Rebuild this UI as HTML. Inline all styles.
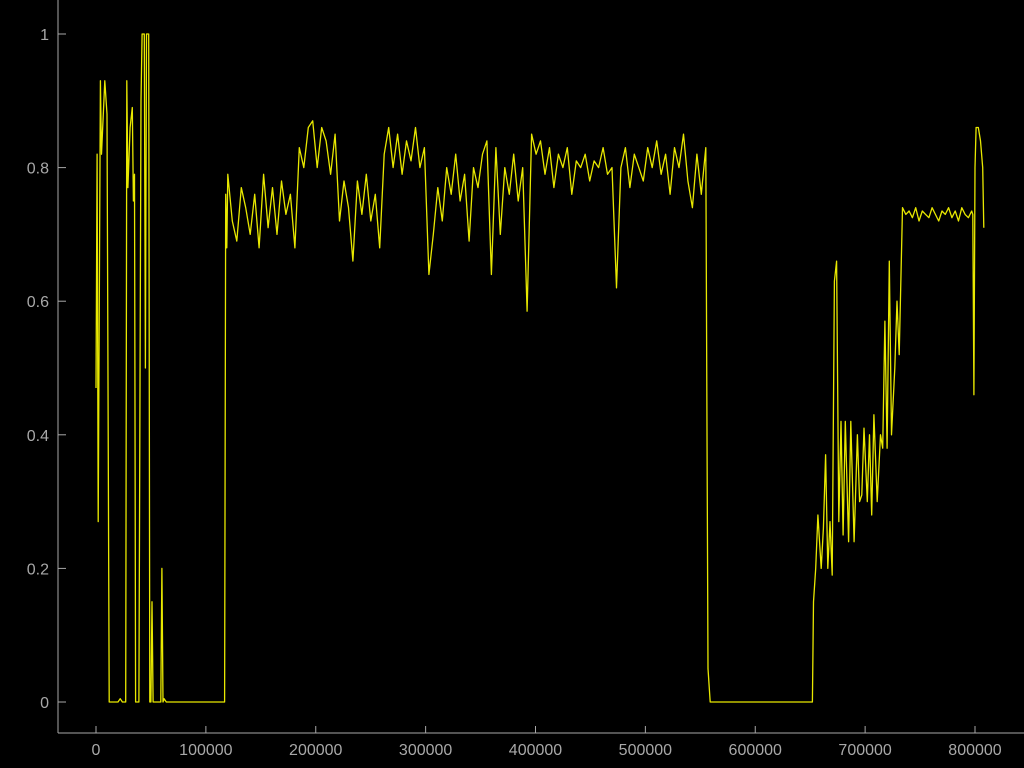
<!DOCTYPE html>
<html><head><meta charset="utf-8"><style>
html,body{margin:0;padding:0;background:#000;}
svg{display:block;}
text{font-family:"Liberation Sans","DejaVu Sans",sans-serif;font-size:16px;fill:#a8a8a8;}
</style></head><body>
<svg id="chart" width="1024" height="768" xmlns="http://www.w3.org/2000/svg">
<rect width="1024" height="768" fill="#000"/>
<g id="axes"></g>
<path id="series" fill="none" stroke="#e8e800" stroke-width="1.3" stroke-linejoin="round"/>
</svg>
<script>
const xTicks = [0,100000,200000,300000,400000,500000,600000,700000,800000];
const yTicks = [0,0.2,0.4,0.6,0.8,1];
const earlyX = [0,1,2,4,5,8,10,12,20,22,24,27,28,29,31,33,34,35,36,39,41,42,44,45,46,48,49,50,51,52,53,59,60,61,62,64,117,118,119];
const earlyY = [0.47,0.82,0.27,0.93,0.82,0.93,0.88,0,0,0.005,0,0,0.93,0.77,0.86,0.89,0.75,0.79,0,0,0.9,1,1,0.5,1,1,0,0,0.15,0,0,0,0.2,0,0.005,0,0,0.76,0.68];
const midStartK = 120, midEndK = 555;
const midY = [0.79,0.72,0.69,0.77,0.74,0.7,0.76,0.68,0.79,0.71,0.77,0.7,0.78,0.73,0.76,
0.68,0.83,0.8,0.86,0.87, 0.8,0.86,0.84,0.79,0.85,
0.72,0.78,0.74,0.66,0.78,0.73,0.79,0.72,0.76,0.68,
0.82,0.86,0.8,0.85,0.79,0.84,0.81,0.86,0.8,0.83,
0.64,0.7,0.77, 0.72,0.8,0.76,0.82,0.75,0.79,0.69,0.8,0.77,0.82,
0.84,0.64,0.83,0.7, 0.8,0.76,0.82,0.75,0.8, 0.585,
0.85,0.82,0.84,0.79,0.83, 0.77,0.82,0.8,0.83,0.76,0.81,0.8,
0.82,0.78,0.81,0.8,0.83,0.79,0.8, 0.62,
0.8,0.83,0.77,0.82,0.8,0.78,0.83,0.8,0.84,0.79,0.82,0.76,0.83,0.8,0.85,0.78,0.74,0.82,0.76,0.83];
const gapX = [557,559,652];
const gapY = [0.05,0,0];
const lateX = [653,655,657,660,662,664,666,668,670,672,674,676,678,680,682,685,687,690,693,695,697,699,702,704,706,708,711,714,716,718,720,722,724,727,729,731,734];
const lateY = [0.15,0.2,0.28,0.2,0.26,0.37,0.2,0.27,0.19,0.63,0.66,0.27,0.42,0.25,0.42,0.24,0.42,0.24,0.4,0.3,0.31,0.41,0.3,0.4,0.28,0.43,0.3,0.4,0.38,0.57,0.38,0.66,0.4,0.5,0.6,0.52,0.74];
const plateauStartK = 737, plateauEndK = 797;
const plateauY = [0.73,0.735,0.725,0.74,0.72,0.735,0.73,0.725,0.74,0.73,0.72,0.735,0.73,0.74,0.725,0.735,0.72,0.74,0.73,0.725,0.735];
const endX = [798,799,800,801,803,805,807,808];
const endY = [0.73,0.46,0.8,0.86,0.86,0.84,0.8,0.71];

const X0=96, X1=975, Y0=702, Y1=34;
function xs(v){return X0+(v/800000)*(X1-X0);}
function ysc(v){return Y0+(Y1-Y0)*v;}
const NS="http://www.w3.org/2000/svg";
const ax=document.getElementById('axes');
function mk(tag,attrs){const e=document.createElementNS(NS,tag);for(const k in attrs)e.setAttribute(k,attrs[k]);return e;}
let a=mk('line',{x1:58,y1:0,x2:58,y2:733,stroke:'#a8a8a8','stroke-width':1});


ax.appendChild(a);
a=mk('line',{x1:58,y1:733,x2:1024,y2:733,stroke:'#a8a8a8','stroke-width':1});


ax.appendChild(a);
xTicks.forEach(t=>{
  const x=xs(t);
  const l=mk('line',{x1:x,y1:733,x2:x,y2:726,stroke:'#a8a8a8'});
  
  
  ax.appendChild(l);
  const tx=mk('text',{x:x,y:755,'text-anchor':'middle'});
  tx.textContent=String(t);
  
  
  ax.appendChild(tx);
});
yTicks.forEach(t=>{
  const y=ysc(t);
  const l=mk('line',{x1:58,y1:y,x2:66,y2:y,stroke:'#a8a8a8'});
  
  
  ax.appendChild(l);
  const tx=mk('text',{x:49,y:y+6,'text-anchor':'end'});
  tx.textContent=String(t);
  
  
  ax.appendChild(tx);
});
const pts=[];
function addPairs(X,Y){const n=Math.min(X.length,Y.length);for(let i=0;i<n;i++)pts.push([X[i],Y[i]]);}
function addEven(s,e,Y){const n=Y.length;for(let i=0;i<n;i++)pts.push([s+(n>1?i*(e-s)/(n-1):0),Y[i]]);}
addPairs(earlyX,earlyY);
addEven(midStartK,midEndK,midY);
addPairs(gapX,gapY);
addPairs(lateX,lateY);
addEven(plateauStartK,plateauEndK,plateauY);
addPairs(endX,endY);
let d='';
pts.forEach((p,i)=>{d+=(i?'L':'M')+xs(p[0]*1000).toFixed(1)+','+ysc(p[1]).toFixed(1);});
document.getElementById('series').setAttribute('d',d);
</script>
</body></html>
